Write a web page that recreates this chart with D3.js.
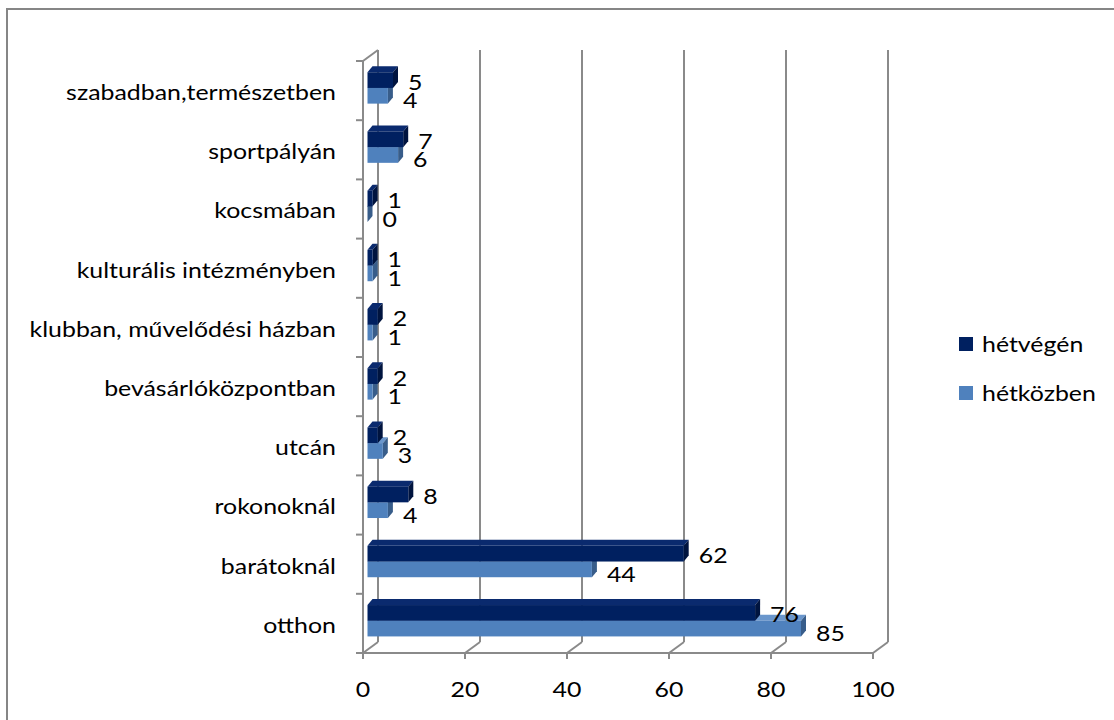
<!DOCTYPE html>
<html><head><meta charset="utf-8">
<script src="https://cdn.jsdelivr.net/npm/d3@7"></script>
<style>body{margin:0;background:#fff}svg{display:block}</style>
</head><body>
<svg id="c" width="1114" height="720"></svg>
<script>
const categories = ["szabadban,természetben","sportpályán","kocsmában","kulturális intézményben","klubban, művelődési házban","bevásárlóközpontban","utcán","rokonoknál","barátoknál","otthon"];
const hetvegen = [5,7,1,1,2,2,2,8,62,76];
const hetkozben = [4,6,0,1,1,1,3,4,44,85];
const seriesNames = ["hétvégén","hétközben"];
const xTicks = [0,20,40,60,80,100];

const svg = d3.select("#c");
const FONT = "Lato, 'Open Sans', sans-serif";
const FS = 22;
const grid = "#8a8a8a";

const x = d3.scaleLinear().domain([0,100]).range([363,873]);
const y = d3.scaleBand().domain(categories).range([61,653]);
const DX = 15, DY = 11;     // wall depth
const bdx = 5, bdy = 6;     // bar depth
const bOff = 4.5;           // bar offset from front plane

// measure stretch
const m = svg.append("text").attr("font-family",FONT).attr("font-size",FS).text("szabadban,természetben");
const sx = 270 / m.node().getComputedTextLength();
m.remove();

function txt(g, xx, yy, s, anchor){
  return g.append("text").attr("transform",`translate(${xx},${yy}) scale(${sx},1)`)
    .attr("font-family",FONT).attr("font-size",FS).attr("fill","#000")
    .attr("text-anchor",anchor).attr("dominant-baseline","central").text(s);
}

// frame
svg.append("path").attr("d","M7,720 V9 H1114").attr("fill","none").attr("stroke","#868686").attr("stroke-width",2);

const gGrid = svg.append("g").attr("stroke",grid).attr("stroke-width",2).attr("fill","none");
const y0 = y.range()[0], y1 = y.range()[1];
// left wall
gGrid.append("line").attr("x1",x(0)).attr("x2",x(0)).attr("y1",y0).attr("y2",y1);
gGrid.append("line").attr("x1",x(0)).attr("x2",x(0)+DX).attr("y1",y0).attr("y2",y0-DY);
// back gridlines
xTicks.forEach(v=>{
  gGrid.append("line").attr("x1",x(v)+DX).attr("x2",x(v)+DX).attr("y1",y0-DY).attr("y2",y1-DY);
  gGrid.append("line").attr("x1",x(v)).attr("x2",x(v)+DX).attr("y1",y1).attr("y2",y1-DY);
  gGrid.append("line").attr("x1",x(v)).attr("x2",x(v)).attr("y1",y1).attr("y2",y1+6);
});
// front axis
gGrid.append("line").attr("x1",x(0)).attr("x2",x(100)).attr("y1",y1).attr("y2",y1);
// y ticks
categories.concat([null]).forEach((c,i)=>{
  const yy = c===null ? y1 : y(c);
  gGrid.append("line").attr("x1",x(0)-7).attr("x2",x(0)).attr("y1",yy).attr("y2",yy);
});

// bars
const colors = {
  dark:{front:"#002060",top:"#0a2a6e",side:"#00143f"},
  light:{front:"#4f81bd",top:"#6a96cc",side:"#385d8a"}
};
const bw = y.bandwidth();
const gBars = svg.append("g");
function bar(xs, xe, yt, h, col){
  const g = gBars.append("g");
  g.append("path").attr("d",`M${xs},${yt} L${xs+bdx},${yt-bdy} L${xe+bdx},${yt-bdy} L${xe},${yt} Z`).attr("fill",col.top);
  g.append("path").attr("d",`M${xe},${yt} L${xe+bdx},${yt-bdy} L${xe+bdx},${yt+h-bdy} L${xe},${yt+h} Z`).attr("fill",col.side);
  g.append("rect").attr("x",xs).attr("y",yt).attr("width",Math.max(0,xe-xs)).attr("height",h).attr("fill",col.front);
}
const gLab = svg.append("g");
categories.forEach((c,i)=>{
  const top = y(c) + bw*0.19;
  const h = bw*0.265;
  const xs = x(0)+bOff;
  bar(xs, x(hetkozben[i])+bOff, top+h, h, colors.light);
  bar(xs, x(hetvegen[i])+bOff, top, h, colors.dark);
});
categories.forEach((c,i)=>{
  const top = y(c) + bw*0.19;
  const h = bw*0.265;
  txt(gLab, x(hetvegen[i])+bOff+15, top+h/2+1, hetvegen[i], "start");
  txt(gLab, x(hetkozben[i])+bOff+15, top+h*1.5+4, hetkozben[i], "start");
  txt(gLab, 336, y(c)+bw/2+1, c, "end");
});
xTicks.forEach(v=> txt(gLab, x(v), 689, v, "middle"));

// legend
const lg = svg.append("g");
[[colors.dark.front,344],[colors.light.front,393]].forEach((d,i)=>{
  lg.append("rect").attr("x",959).attr("y",d[1]-7).attr("width",14).attr("height",14).attr("fill",d[0]);
  txt(lg, 982, d[1], seriesNames[i], "start");
});
</script>
</body></html>
